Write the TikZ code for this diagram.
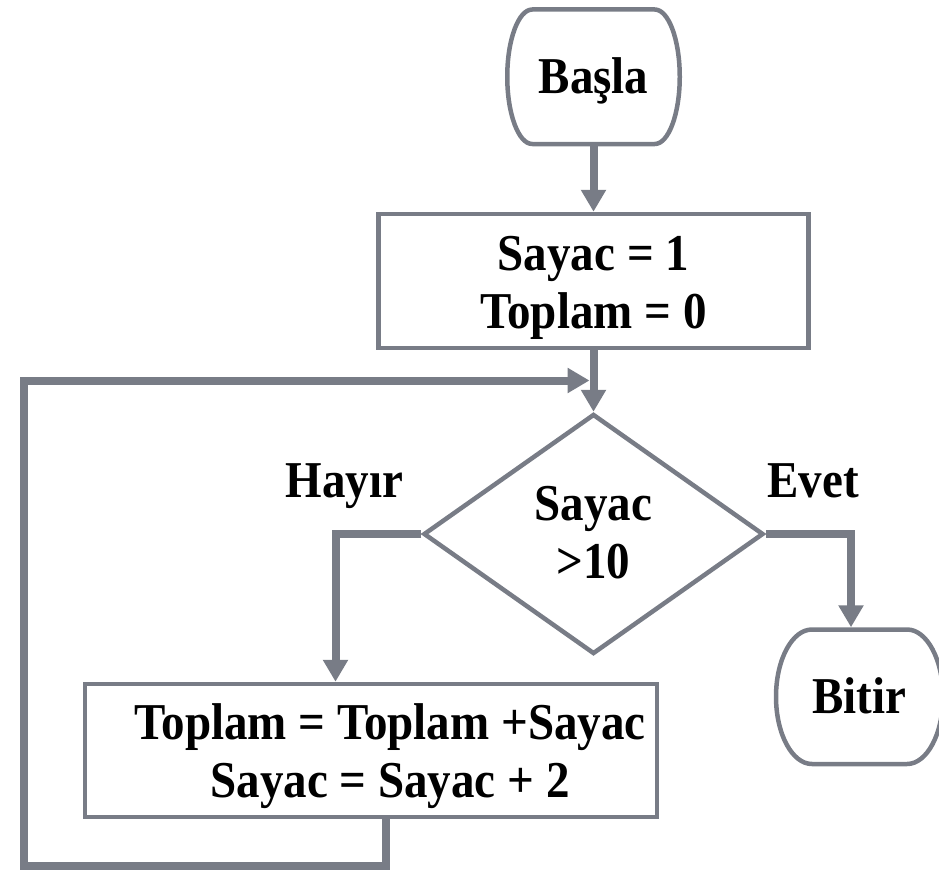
\documentclass[tikz,border=0pt]{standalone}
\usepackage{graphicx}
\usepackage{fontspec}
\setmainfont{Liberation Serif}
\usetikzlibrary{arrows.meta,shapes.geometric}
\definecolor{lc}{RGB}{120,124,134}
\newcommand\mltext[2]{\raisebox{0pt}[#1][0pt]{\scalebox{1}[1.1]{\begin{tabular}[b]{@{}c@{}}#2\end{tabular}}}}
\newcommand\sltext[1]{\raisebox{0pt}[34pt][0pt]{\scalebox{1}[1.1]{#1}}}
\begin{document}
\begin{tikzpicture}[x=1pt,y=-1pt,
 txt/.style={font=\fontsize{47}{52}\selectfont\bfseries, inner sep=0pt, text=black},
 boxnode/.style={txt, draw=lc, line width=4.5pt, rectangle},
 termnode/.style={txt, outer sep=2.25pt},
 termline/.style={draw=lc, line width=4.5pt, line join=round},
 conn/.style={draw=lc, line width=8pt, -{Triangle[width=24pt,length=22pt]}},
]
\useasboundingbox (0,0) rectangle (939,872);
% terminal outlines
\draw[termline] (532.25,9.5) -- (654.75,9.5)
  arc[start angle=-90,end angle=90,x radius=25,y radius=67.25]
  -- (532.25,144)
  arc[start angle=90,end angle=270,x radius=25,y radius=67.25] -- cycle;
\draw[termline] (812,629.5) -- (907,629.5)
  arc[start angle=-90,end angle=90,x radius=36,y radius=67.25]
  -- (812,764)
  arc[start angle=90,end angle=270,x radius=36,y radius=67.25] -- cycle;
% nodes
\node[termnode, minimum width=172.5pt, minimum height=134.5pt] (start) at (593.5,76.75) {\sltext{Başla}};
\node[boxnode, minimum width=430pt, minimum height=134pt] (init) at (593.5,281) {\mltext{94pt}{Sayac = 1\\Toplam = 0}};
\node[txt, diamond, draw=lc, line width=4.5pt, minimum width=340pt, minimum height=240pt] (dec) at (593.5,534) {\mltext{88pt}{Sayac\\>10}};
\node[boxnode, minimum width=572pt, minimum height=133pt] (calc) at (371,750.5) {\hspace*{38pt}\mltext{93pt}{Toplam = Toplam +Sayac\\Sayac = Sayac + 2}};
\node[termnode, minimum width=167pt, minimum height=134.5pt] (stop) at (859.5,696.75) {\sltext{Bitir}};
\node[txt, anchor=base] (hayir) at (344.5,497) {\scalebox{1}[1.1]{Hayır}};
\node[txt, anchor=base] (evet) at (813,497) {\scalebox{1}[1.1]{Evet}};
% connectors
\coordinate (loopend) at (589.5,380.5);
\draw[conn] (start.south) -- (init.north);
\draw[conn] (init.south) -- (dec.north);
\draw[conn] (dec.west) -| ([xshift=-35.5pt]calc.north);
\draw[conn] (dec.east) -| ([xshift=-8.5pt]stop.north);
\draw[conn] ([xshift=14.5pt]calc.south) |- (24,865.5) |- (loopend);
\end{tikzpicture}
\end{document}
